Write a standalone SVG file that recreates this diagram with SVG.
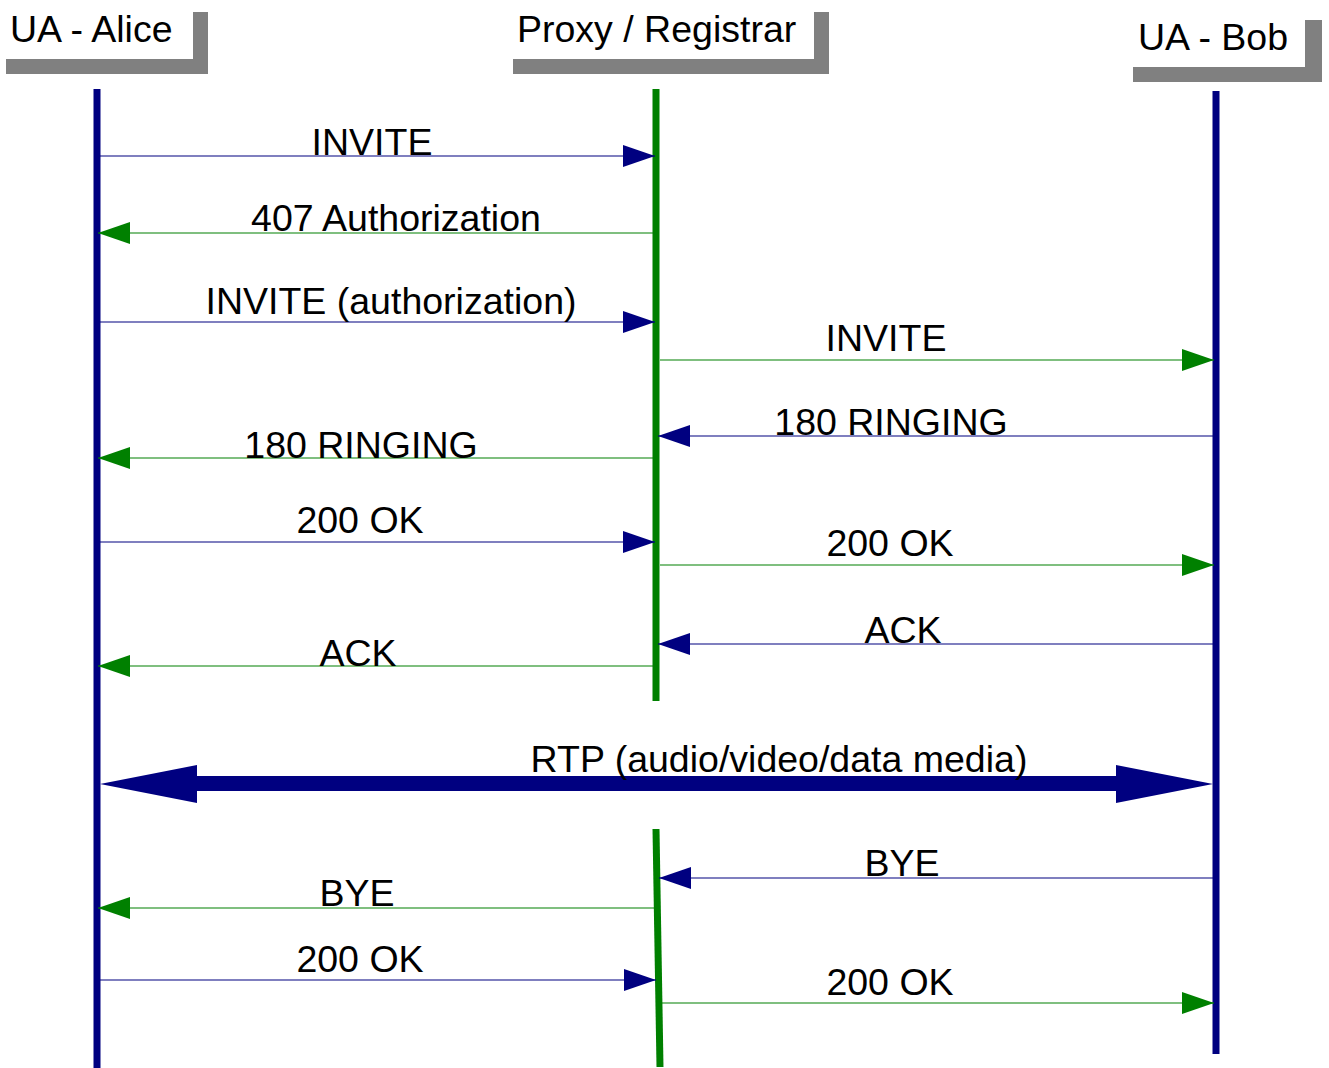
<svg xmlns="http://www.w3.org/2000/svg" width="1329" height="1068" viewBox="0 0 1329 1068">
  <style>
    text { font-family: "Liberation Sans", Arial, sans-serif; font-size: 37.5px; fill: #000; }
    .lbl { text-anchor: middle; }
    .tab { fill: #808080; }
    .life-b { stroke: #000080; stroke-width: 7; fill: none; }
    .life-g { stroke: #008000; stroke-width: 7; fill: none; }
    .msg-b { stroke: #000080; stroke-width: 1.2; fill: none; marker-end: url(#headB); }
    .msg-g { stroke: #008000; stroke-width: 1.2; fill: none; marker-end: url(#headG); }
    .rtp { stroke: #000080; stroke-width: 15; fill: none; }
  </style>
  <defs>
    <marker id="headB" markerUnits="userSpaceOnUse" markerWidth="34" markerHeight="24" refX="33" refY="12" orient="auto" viewBox="0 0 34 24">
      <polygon points="1,1 33,12 1,23" fill="#000080"/>
    </marker>
    <marker id="headG" markerUnits="userSpaceOnUse" markerWidth="34" markerHeight="24" refX="33" refY="12" orient="auto" viewBox="0 0 34 24">
      <polygon points="1,1 33,12 1,23" fill="#008000"/>
    </marker>
  </defs>

  <!-- participant headers -->
  <g id="alice">
    <rect class="tab" x="6" y="59" width="202" height="15"/>
    <rect class="tab" x="193" y="12" width="15" height="62"/>
    <text x="10" y="42">UA - Alice</text>
    <line class="life-b" x1="97" y1="89" x2="97" y2="1068"/>
  </g>
  <g id="proxy">
    <rect class="tab" x="513" y="59" width="316" height="15"/>
    <rect class="tab" x="814" y="12" width="15" height="62"/>
    <text x="517" y="42">Proxy / Registrar</text>
    <line class="life-g" x1="656" y1="89" x2="656" y2="701"/>
    <line class="life-g" x1="656" y1="829" x2="660" y2="1067"/>
  </g>
  <g id="bob">
    <rect class="tab" x="1133" y="67" width="189" height="15"/>
    <rect class="tab" x="1305" y="20" width="17" height="62"/>
    <text x="1138" y="50">UA - Bob</text>
    <line class="life-b" x1="1216" y1="91" x2="1216" y2="1054"/>
  </g>

  <!-- messages -->
  <g id="connectors">
    <line class="msg-b" x1="100" y1="156" x2="655" y2="156"/>
    <line class="msg-g" x1="653" y1="233" x2="98" y2="233"/>
    <line class="msg-b" x1="100" y1="322" x2="655" y2="322"/>
    <line class="msg-g" x1="660" y1="360" x2="1214" y2="360"/>
    <line class="msg-b" x1="1213" y1="436" x2="658" y2="436"/>
    <line class="msg-g" x1="653" y1="458" x2="98" y2="458"/>
    <line class="msg-b" x1="100" y1="542" x2="655" y2="542"/>
    <line class="msg-g" x1="660" y1="565" x2="1214" y2="565"/>
    <line class="msg-b" x1="1213" y1="644" x2="658" y2="644"/>
    <line class="msg-g" x1="653" y1="666" x2="98" y2="666"/>

    <!-- media stream, both directions -->
    <line class="rtp" x1="190" y1="783.5" x2="1123" y2="783.5"/>
    <polygon points="100,784 197,765 197,803" fill="#000080"/>
    <polygon points="1213,784 1116,765 1116,803" fill="#000080"/>

    <line class="msg-b" x1="1213" y1="878" x2="659" y2="878"/>
    <line class="msg-g" x1="655" y1="908" x2="98" y2="908"/>
    <line class="msg-b" x1="100" y1="980" x2="656" y2="980"/>
    <line class="msg-g" x1="662" y1="1003" x2="1214" y2="1003"/>
  </g>

  <!-- message labels -->
  <g id="labels">
    <text class="lbl" x="372" y="155">INVITE</text>
    <text class="lbl" x="396" y="231">407 Authorization</text>
    <text class="lbl" x="391" y="314">INVITE (authorization)</text>
    <text class="lbl" x="886" y="351">INVITE</text>
    <text class="lbl" x="891" y="435">180 RINGING</text>
    <text class="lbl" x="361" y="458">180 RINGING</text>
    <text class="lbl" x="360" y="533">200 OK</text>
    <text class="lbl" x="890" y="556">200 OK</text>
    <text class="lbl" x="903" y="643">ACK</text>
    <text class="lbl" x="358" y="666">ACK</text>
    <text class="lbl" x="779" y="772">RTP (audio/video/data media)</text>
    <text class="lbl" x="902" y="876">BYE</text>
    <text class="lbl" x="357" y="906">BYE</text>
    <text class="lbl" x="360" y="972">200 OK</text>
    <text class="lbl" x="890" y="995">200 OK</text>
  </g>
</svg>
